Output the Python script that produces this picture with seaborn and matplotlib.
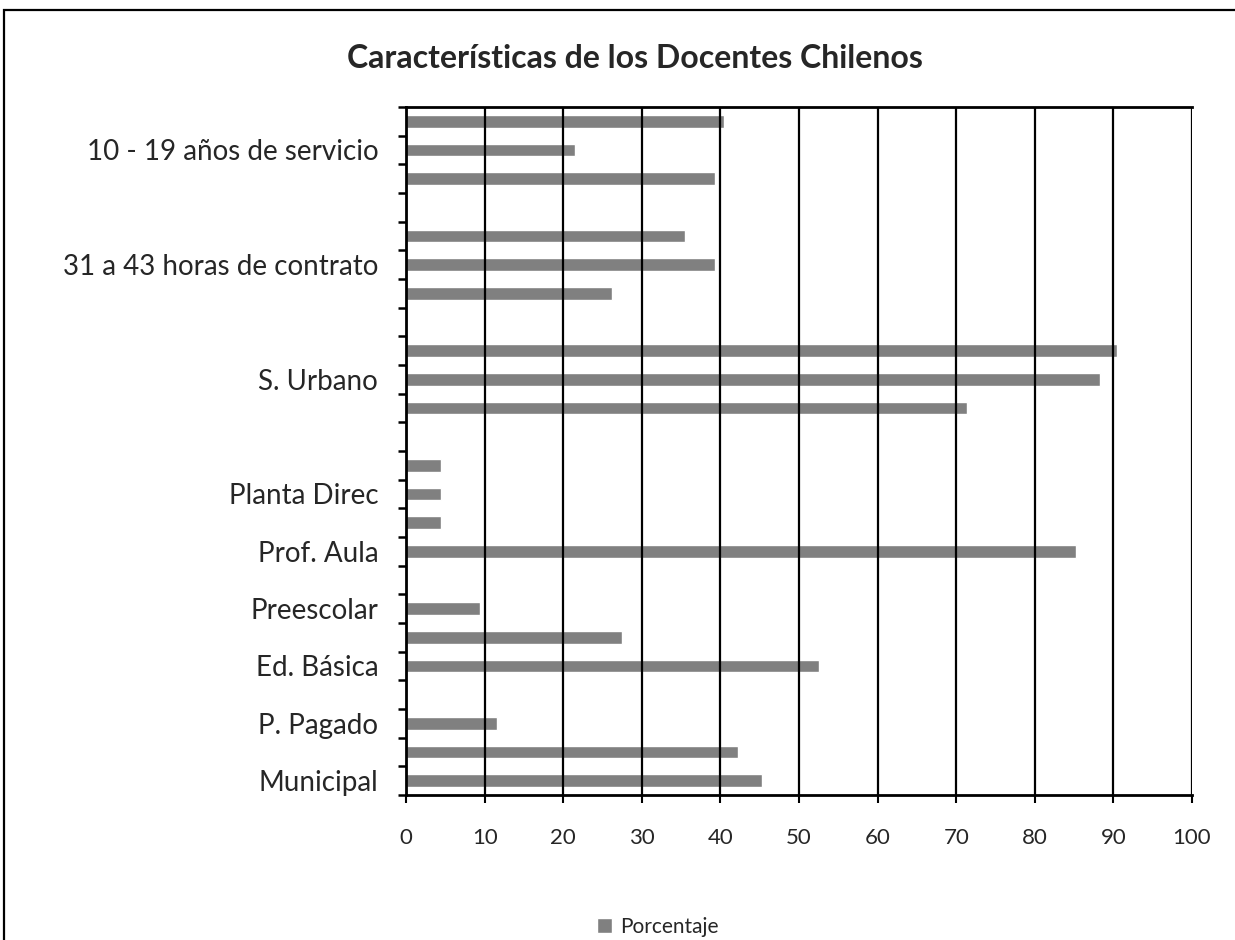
import matplotlib
matplotlib.use("Agg")
import matplotlib.pyplot as plt
import matplotlib.patches as mpatches
from matplotlib.ticker import FixedLocator
import numpy as np
import pandas as pd
import seaborn as sns

# rows from top to bottom; blank rows are spacers in the original sheet
slot_labels = [
    "", "10 - 19 años de servicio", "", "",
    "", "31 a 43 horas de contrato", "", "",
    "", "S. Urbano", "", "",
    "", "Planta Direc", "", "Prof. Aula",
    "", "Preescolar", "", "Ed. Básica",
    "", "P. Pagado", "", "Municipal",
]
porcentaje = [
    40.4, 21.5, 39.3, np.nan,
    35.5, 39.3, 26.2, np.nan,
    90.4, 88.3, 71.4, np.nan,
    4.4, 4.4, 4.4, 85.2,
    np.nan, 9.4, 27.5, 52.5,
    np.nan, 11.6, 42.2, 45.3,
]
x_ticks = [0, 10, 20, 30, 40, 50, 60, 70, 80, 90, 100]

df = pd.DataFrame({"fila": list(range(len(porcentaje))), "Porcentaje": porcentaje})

sns.set_style("white")
plt.rcParams["font.family"] = ["Lato", "DejaVu Sans"]

fig = plt.figure(figsize=(12.35, 9.4), dpi=100)
ax = fig.add_axes([406 / 1235, 145 / 940, 786 / 1235, 688 / 940])

sns.barplot(
    data=df, x="Porcentaje", y="fila", orient="h", order=df["fila"].tolist(),
    color="#808080", saturation=1, width=0.45, label="Porcentaje", ax=ax,
)

ax.set_xlim(0, 100)
ax.set_ylim(len(porcentaje) - 0.5, -0.5)
ax.set_xticks(x_ticks)
ax.set_xticklabels([str(t) for t in x_ticks], fontsize=16)
ax.set_yticks(range(len(slot_labels)))
ax.set_yticklabels(slot_labels, fontsize=20)
ax.yaxis.set_minor_locator(FixedLocator(np.arange(-0.5, len(porcentaje), 1.0)))
ax.tick_params(axis="y", which="major", length=0, pad=20)
ax.tick_params(axis="y", which="minor", length=6, width=1.8, direction="out", color="black", left=True)
ax.tick_params(axis="x", length=6, width=1.5, direction="out", color="black", bottom=True, pad=18)
ax.set_xlabel("")
ax.set_ylabel("")

ax.xaxis.grid(True, color="black", linewidth=1.6)
ax.yaxis.grid(False)
ax.set_axisbelow(False)
for p in ax.patches:
    p.set_zorder(1)
for line in ax.get_xgridlines():
    line.set_zorder(2)

for side in ["left", "bottom", "top"]:
    ax.spines[side].set_visible(True)
    ax.spines[side].set_color("black")
    ax.spines[side].set_linewidth(2)
ax.spines["right"].set_visible(False)

fig.text(0.514, 0.938, "Características de los Docentes Chilenos",
         ha="center", va="center", fontsize=23, fontweight="bold")

ax.legend(loc="center", bbox_to_anchor=((658 - 406) / 786, -(927 - 795) / 688),
          frameon=False, fontsize=15, handlelength=0.7, handleheight=0.7, handletextpad=0.4)

fig.patches.append(mpatches.Rectangle((4 / 1235, -0.1), 1.2, 1.1 - 10 / 940,
                                      transform=fig.transFigure, fill=False,
                                      edgecolor="black", linewidth=1.6))

plt.savefig("out.png", dpi=100)
